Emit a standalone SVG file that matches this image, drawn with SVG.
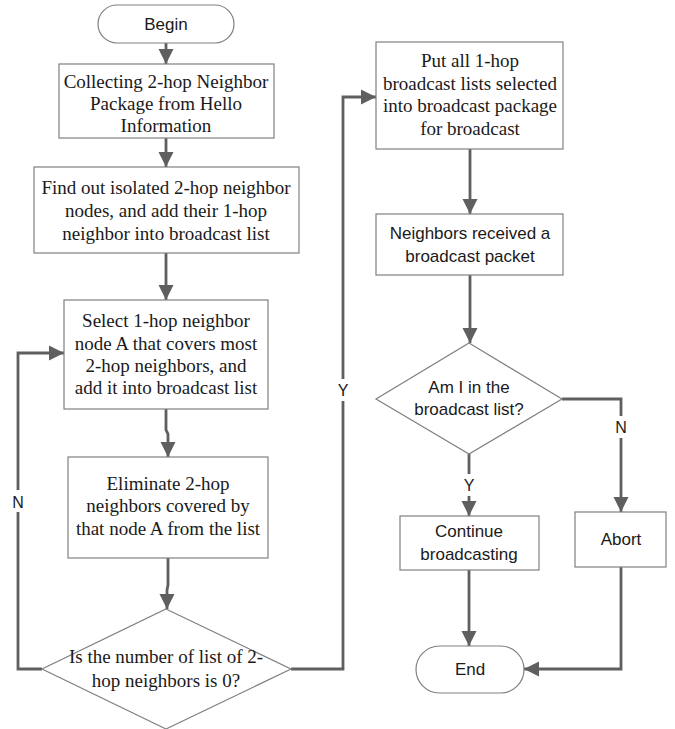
<svg xmlns="http://www.w3.org/2000/svg" width="675" height="729" viewBox="0 0 675 729">
<defs>
<marker id="ah" viewBox="0 0 10 10" refX="10" refY="5" markerWidth="5.4" markerHeight="5.4" orient="auto" markerUnits="strokeWidth">
<path d="M0,0 L10,5 L0,10 z" fill="#5f5f5f"/>
</marker>
<style>
.box{fill:#fff;stroke:#808080;stroke-width:1.2}
.con{fill:none;stroke:#5f5f5f;stroke-width:2.8;marker-end:url(#ah)}
.sr{font-family:"Liberation Serif","Times New Roman",serif;font-size:19px;fill:#1a1a1a;text-anchor:middle}
.ss{font-family:"Liberation Sans",Arial,sans-serif;font-size:17px;fill:#1a1a1a;text-anchor:middle}
.lbl{font-family:"Liberation Sans",Arial,sans-serif;font-size:16px;fill:#1a1a1a;text-anchor:middle}
</style>
</defs>
<rect width="675" height="729" fill="#fff"/>
<g id="connectors">
<line class="con" x1="166" y1="43" x2="166" y2="64"/>
<line class="con" x1="166" y1="138" x2="166" y2="167"/>
<line class="con" x1="166" y1="253" x2="166" y2="300"/>
<polyline class="con" points="166,409 166,430 168,434 168,457"/>
<polyline class="con" points="168,558 168,585 167,590 167,609"/>
<polyline class="con" points="42,669 18,669 18,353 64,353"/>
<polyline class="con" points="291,669 343,669 343,97 376,97"/>
<line class="con" x1="470" y1="149" x2="470" y2="214"/>
<line class="con" x1="470" y1="275" x2="470" y2="343"/>
<polyline class="con" points="562,399 621,399 621,512"/>
<line class="con" x1="469" y1="454" x2="469" y2="516"/>
<line class="con" x1="469" y1="570" x2="469" y2="646"/>
<polyline class="con" points="621,567 621,669 524,669"/>
<rect x="10" y="490" width="16" height="22" fill="#fff"/>
<text class="lbl" x="18" y="508">N</text>
<rect x="335" y="379" width="16" height="22" fill="#fff"/>
<text class="lbl" x="343" y="396">Y</text>
<rect x="613" y="416" width="16" height="22" fill="#fff"/>
<text class="lbl" x="621" y="433">N</text>
<rect x="461" y="474" width="16" height="22" fill="#fff"/>
<text class="lbl" x="469" y="491">Y</text>
</g>
<g id="begin">
<rect class="box" x="98" y="5" width="136" height="38" rx="19"/>
<text class="ss" x="166" y="30">Begin</text>
</g>
<g id="collect">
<rect class="box" x="59" y="64" width="215" height="74"/>
<text class="sr" x="166" y="88">Collecting 2-hop Neighbor</text>
<text class="sr" x="166" y="110">Package from Hello</text>
<text class="sr" x="166" y="132">Information</text>
</g>
<g id="isolated">
<rect class="box" x="34" y="167" width="265" height="86"/>
<text class="sr" x="166" y="194">Find out isolated 2-hop neighbor</text>
<text class="sr" x="166" y="217">nodes, and add their 1-hop</text>
<text class="sr" x="166" y="240">neighbor into broadcast list</text>
</g>
<g id="select">
<rect class="box" x="64" y="300" width="204" height="109"/>
<text class="sr" x="166" y="327">Select 1-hop neighbor</text>
<text class="sr" x="166" y="350">node A that covers most</text>
<text class="sr" x="166" y="372">2-hop neighbors, and</text>
<text class="sr" x="166" y="394">add it into broadcast list</text>
</g>
<g id="eliminate">
<rect class="box" x="68" y="457" width="200" height="101"/>
<text class="sr" x="168" y="490">Eliminate 2-hop</text>
<text class="sr" x="168" y="512">neighbors covered by</text>
<text class="sr" x="168" y="535">that node A from the list</text>
</g>
<g id="decision1">
<polygon class="box" points="166,609 291,669 166,729 42,669"/>
<text class="sr" x="166" y="663">Is the number of list of 2-</text>
<text class="sr" x="166" y="687">hop neighbors is 0?</text>
</g>
<g id="putall">
<rect class="box" x="376" y="42" width="187" height="107"/>
<text class="sr" x="470" y="67">Put all 1-hop</text>
<text class="sr" x="470" y="90">broadcast lists selected</text>
<text class="sr" x="470" y="112">into broadcast package</text>
<text class="sr" x="470" y="135">for broadcast</text>
</g>
<g id="received">
<rect class="box" x="376" y="214" width="187" height="61"/>
<text class="ss" x="470" y="239">Neighbors received a</text>
<text class="ss" x="470" y="262">broadcast packet</text>
</g>
<g id="decision2">
<polygon class="box" points="469,343 562,399 469,454 376,399"/>
<text class="ss" x="469" y="393">Am I in the</text>
<text class="ss" x="469" y="415">broadcast list?</text>
</g>
<g id="continue">
<rect class="box" x="400" y="516" width="139" height="54"/>
<text class="ss" x="469" y="537">Continue</text>
<text class="ss" x="469" y="560">broadcasting</text>
</g>
<g id="abort">
<rect class="box" x="575" y="512" width="91" height="55"/>
<text class="ss" x="621" y="545">Abort</text>
</g>
<g id="end">
<rect class="box" x="416" y="646" width="108" height="47" rx="23.5"/>
<text class="ss" x="470" y="675">End</text>
</g>
</svg>
